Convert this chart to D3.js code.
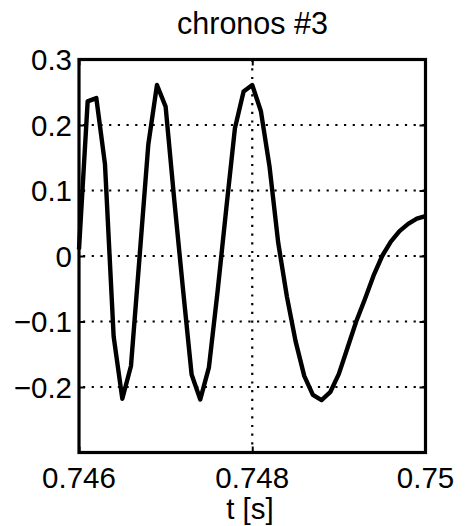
<!DOCTYPE html>
<html>
<head>
<meta charset="utf-8">
<script src="https://cdn.jsdelivr.net/npm/d3@7"></script>
<style>
  html, body { margin: 0; padding: 0; background: #fff; }
  svg { display: block; }
  text { font-family: "Liberation Sans", Arial, Helvetica, sans-serif; fill: #000; }
</style>
</head>
<body>
<svg id="chart" width="473" height="526"></svg>
<script>
// Time samples of the third chronos (s)
const timeS = [
  0.7460, 0.7461, 0.7462, 0.7463, 0.7464, 0.7465, 0.7466, 0.7467, 0.7468, 0.7469,
  0.7470, 0.7471, 0.7472, 0.7473, 0.7474, 0.7475, 0.7476, 0.7477, 0.7478, 0.7479,
  0.7480, 0.7481, 0.7482, 0.7483, 0.7484, 0.7485, 0.7486, 0.7487, 0.7488, 0.7489,
  0.7490, 0.7491, 0.7492, 0.7493, 0.7494, 0.7495, 0.7496, 0.7497, 0.7498, 0.7499,
  0.7500
];
// Chronos amplitude at each sample
const chronos3 = [
  0.010, 0.236, 0.241, 0.140, -0.123, -0.218, -0.168, 0.000, 0.170, 0.261,
  0.228, 0.085, -0.050, -0.181, -0.219, -0.170, -0.054, 0.072, 0.195, 0.251,
  0.261, 0.221, 0.136, 0.020, -0.062, -0.130, -0.183, -0.212, -0.220, -0.208,
  -0.180, -0.140, -0.100, -0.066, -0.030, 0.000, 0.022, 0.038, 0.049, 0.057,
  0.061
];
const xTicks = [0.746, 0.748, 0.750];
const xTickLabels = ["0.746", "0.748", "0.75"];
const yTicks = [-0.2, -0.1, 0, 0.1, 0.2, 0.3];
const yTickLabels = ["\u22120.2", "\u22120.1", "0", "0.1", "0.2", "0.3"];
const titleText = "chronos #3";
const xLabelText = "t [s]";

const svg = d3.select("#chart");
const plotL = 79, plotR = 425.5, plotT = 59.5, plotB = 452.5;

const x = d3.scaleLinear().domain([0.746, 0.750]).range([plotL, plotR]);
const y = d3.scaleLinear().domain([-0.3, 0.3]).range([plotB, plotT]);

// dotted grid
const grid = svg.append("g")
  .attr("stroke", "#000").attr("stroke-width", 2.2)
  .attr("stroke-dasharray", "2.2 6.5");
grid.selectAll("line.h")
  .data(yTicks.filter(v => v > -0.3 && v < 0.3))
  .join("line")
  .attr("class", "h")
  .attr("x1", plotL + 4).attr("x2", plotR)
  .attr("y1", d => y(d)).attr("y2", d => y(d));
grid.selectAll("line.v")
  .data(xTicks.filter(v => v > 0.746 && v < 0.750))
  .join("line")
  .attr("class", "v")
  .attr("y1", plotT).attr("y2", plotB)
  .attr("x1", d => x(d)).attr("x2", d => x(d));

// data line
const line = d3.line()
  .x((d, i) => x(timeS[i]))
  .y(d => y(d));
svg.append("path")
  .datum(chronos3)
  .attr("fill", "none")
  .attr("stroke", "#000")
  .attr("stroke-width", 4.4)
  .attr("stroke-linejoin", "round")
  .attr("d", line);

// axes with inward ticks, labels placed separately
const axL = d3.axisLeft(y).tickValues(yTicks).tickSize(-6).tickFormat("");
const axR = d3.axisRight(y).tickValues(yTicks).tickSize(-6).tickFormat("");
const axB = d3.axisBottom(x).tickValues(xTicks).tickSize(-6).tickFormat("");
const axT = d3.axisTop(x).tickValues(xTicks).tickSize(-6).tickFormat("");
[[axL, `translate(${plotL},0)`], [axR, `translate(${plotR},0)`],
 [axB, `translate(0,${plotB})`], [axT, `translate(0,${plotT})`]].forEach(([ax, tr]) => {
  const g = svg.append("g").attr("transform", tr).call(ax);
  g.select(".domain").remove();
  g.selectAll(".tick line").attr("stroke", "#000").attr("stroke-width", 2);
});

// frame
svg.append("rect")
  .attr("x", plotL).attr("y", plotT)
  .attr("width", plotR - plotL).attr("height", plotB - plotT)
  .attr("fill", "none").attr("stroke", "#000").attr("stroke-width", 3.2);

// tick labels
svg.append("g").selectAll("text")
  .data(yTicks)
  .join("text")
  .attr("x", 72).attr("y", d => y(d))
  .attr("dy", "0.36em")
  .attr("text-anchor", "end")
  .style("font-size", "29.5px")
  .text((d, i) => yTickLabels[i]);

svg.append("g").selectAll("text")
  .data(xTicks)
  .join("text")
  .attr("x", d => x(d)).attr("y", 488)
  .attr("text-anchor", "middle")
  .style("font-size", "29.5px")
  .text((d, i) => xTickLabels[i]);

svg.append("text")
  .attr("x", 250).attr("y", 519)
  .attr("text-anchor", "middle")
  .style("font-size", "29.5px")
  .text(xLabelText);

svg.append("text")
  .attr("x", 252.5).attr("y", 33.5)
  .attr("text-anchor", "middle")
  .style("font-size", "30.5px")
  .text(titleText);
</script>
</body>
</html>
